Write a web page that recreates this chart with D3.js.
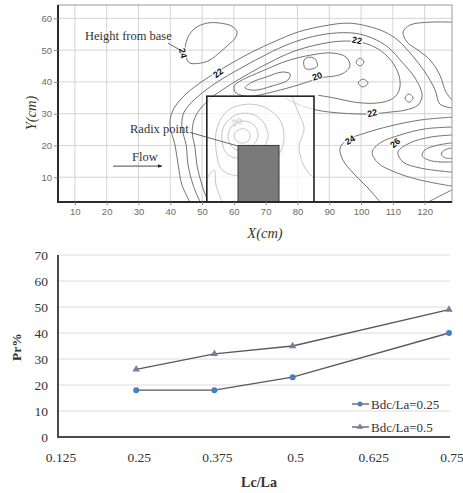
<!DOCTYPE html>
<html>
<head>
<meta charset="utf-8">
<script src="https://cdn.jsdelivr.net/npm/d3@7"></script>
<style>
  body { margin: 0; background: #fff; }
  svg { display: block; }
</style>
</head>
<body>
<svg id="chart" width="463" height="493"></svg>
<script>
// ---------- top panel: contour map (X, Y in cm) ----------
var xTicksTop = [10, 20, 30, 40, 50, 60, 70, 80, 90, 100, 110, 120];
var yTicksTop = [10, 20, 30, 40, 50, 60];

// contour lines, [x cm, y cm]
var bandA = [[46.2,2.2],[43.7,7.5],[42.5,13.8],[41.5,20.1],[39.9,26.4],[40.6,30.5],[43.1,34.3],[47.2,38.1],[52.5,41.8],[58.8,45.6],[65.7,49.4],[73.0,52.8],[80.2,55.7],[87.7,57.5],[95.9,58.5],[102.2,57.5],[107.5,55.7],[111.6,53.1],[116.0,48.4],[120.1,43.1],[123.3,37.4],[124.8,33.0],[128.6,31.8]];
var bandB = [[49.4,2.2],[47.2,7.5],[45.6,13.8],[45.0,20.1],[43.7,25.5],[44.0,29.6],[45.9,32.7],[50.0,36.5],[55.3,40.3],[61.6,44.0],[68.6,47.8],[75.8,51.3],[83.0,53.8],[90.9,55.3],[98.1,55.3],[103.5,53.8],[108.5,50.9],[112.9,46.2],[117.0,41.2],[119.2,35.8],[117.9,32.7],[113.8,31.1],[109.1,30.5],[102.8,29.9],[93.4,30.2],[86.2,31.1],[80.8,32.7],[76.1,34.9]];
var bandC = [[51.9,2.2],[50.0,7.5],[48.4,13.8],[47.8,19.2],[46.9,24.2],[47.5,28.0],[49.1,31.1],[52.8,34.9],[58.2,38.7],[64.5,42.5],[71.4,46.2],[78.3,49.4],[85.8,51.6],[93.4,52.8],[99.7,52.5],[104.4,50.9],[108.2,48.1],[111.0,44.3],[112.3,39.9],[111.6,36.5],[109.1,34.3],[104.4,33.3],[98.1,33.6],[91.8,34.9],[86.5,35.8]];
var line24 = [[106.0,2.2],[102.2,6.6],[97.8,11.0],[94.3,15.4],[93.4,19.2],[95.6,21.7],[101.3,23.9],[109.1,26.1],[118.6,28.0],[128.6,28.9]];
var topRight = [[128.6,58.8],[121.7,58.8],[115.4,57.9],[113.2,55.7],[114.5,52.5],[117.9,50.0],[121.7,46.9],[124.8,42.1],[126.7,36.8],[128.6,34.3]];
var u1 = [[128.6,25.8],[120.1,25.2],[112.3,23.3],[106.0,20.8],[103.5,17.9],[105.3,14.5],[110.7,11.6],[118.6,9.1],[128.6,7.2]];
var u2 = [[128.6,23.3],[121.7,22.6],[115.4,20.8],[111.6,17.9],[113.2,14.8],[118.6,12.9],[128.6,11.6]];
var u3 = [[128.6,20.8],[124.2,20.1],[120.1,18.6],[119.2,16.7],[122.3,15.1],[128.6,14.8]];
var u4 = [[128.6,19.2],[126.4,18.6],[125.2,17.3],[126.7,16.0],[128.6,16.0]];
var cornerLine = [[121.1,2.2],[124.8,4.1],[128.6,6.0]];

var loop24 = [[44.7,50.6],[45.6,54.1],[47.8,56.9],[51.6,58.5],[55.7,58.5],[59.4,57.5],[61.0,55.7],[60.4,53.8],[58.2,51.6],[55.7,49.4],[52.5,46.9],[49.4,45.9],[46.2,45.9],[45.3,46.9]];
var loop20 = [[60.7,36.5],[60.1,38.7],[62.6,40.6],[68.9,43.4],[76.4,46.5],[84.0,48.4],[90.9,49.1],[95.3,47.8],[96.5,45.0],[94.0,42.5],[87.1,41.2],[80.2,39.0],[72.0,36.8],[65.1,35.5]];
var loopInner = [[63.5,38.1],[65.7,39.9],[70.1,41.5],[75.2,43.1],[77.7,42.5],[77.0,40.6],[72.0,38.7],[66.7,37.4]];
var loopSmall = [[82.1,46.9],[84.0,47.8],[85.8,46.9],[86.2,44.9],[84.3,44.0],[82.4,44.3]];
var dot1 = [[98.4,46.2],[99.7,47.5],[100.9,46.2],[99.7,45.0]];
var dot2 = [[99.1,39.6],[100.6,40.9],[102.2,39.6],[100.6,38.4]];
var dot3 = [[113.8,34.9],[115.1,36.2],[116.4,34.9],[115.1,33.6]];

// faint contours inside the test box
var pale1 = [[60.1,23.0],[61.3,24.8],[63.5,25.2],[65.1,23.6],[64.5,21.4],[61.9,20.8]];
var pale2 = [[58.2,22.3],[59.4,26.1],[62.9,27.7],[66.4,26.4],[67.6,23.0],[65.7,19.8],[60.7,18.6]];
var pale3 = [[56.3,21.1],[56.9,26.1],[60.7,29.6],[65.7,29.9],[69.2,27.4],[70.8,23.0],[68.9,18.6],[63.5,16.0],[58.2,17.0]];
var pale4 = [[54.4,18.6],[54.7,25.5],[58.2,31.1],[64.5,33.0],[70.1,31.8],[74.5,28.0],[75.8,22.3],[73.9,16.7],[68.9,12.3],[61.9,10.4],[56.3,12.3]];
var paleOpen1 = [[51.6,9.7],[53.8,12.3],[54.4,7.5],[56.3,2.2]];
var paleOpen2 = [[78.3,35.5],[80.2,30.5],[82.1,25.5],[80.5,19.2],[82.4,12.9],[85.2,9.7]];

var openLines = [bandA, bandB, bandC, line24, topRight, u1, u2, u3, u4, cornerLine];
var closedLoops = [loop24, loop20, loopInner, loopSmall, dot1, dot2, dot3];
var paleLoops = [pale1, pale2, pale3, pale4];
var paleLines = [paleOpen1, paleOpen2];

// contour labels: value, x, y, angle
var contourLabels = [["24",44.0,49.1,78],["22",55.0,42.8,-38],["22",98.7,53.1,10],["20",86.2,41.8,-20],["22",103.5,30.2,-12],["24",96.5,21.7,-30],["26",110.7,20.8,-42]];

var boxX = [51.5, 85.2], boxY = [2.2, 35.5];
var blockX = [61.3, 74.2], blockY = [2.2, 20];

// ---------- bottom panel: Pr% vs Lc/La ----------
var lcLa = [0.25, 0.375, 0.5, 0.75];
var xTicksBot = [0.125, 0.25, 0.375, 0.5, 0.625, 0.75];
var yTicksBot = [0, 10, 20, 30, 40, 50, 60, 70];
var bdc025 = [18, 18, 23, 40];
var bdc05 = [26, 32, 35, 49];
var seriesNames = ["Bdc/La=0.25", "Bdc/La=0.5"];

var svg = d3.select("#chart");
var sans = "'Liberation Sans', Arial, sans-serif";
var serif = "'Liberation Serif', 'Times New Roman', serif";

// ===== top panel =====
var x1 = d3.scaleLinear().domain([4.7, 128.6]).range([58, 452]);
var y1 = d3.scaleLinear().domain([2.2, 64.2]).range([202, 5]);

svg.append("clipPath").attr("id", "plotclip")
  .append("rect").attr("x", 58).attr("y", 5).attr("width", 394).attr("height", 197);

var gTop = svg.append("g");

gTop.append("g").selectAll("line.gx").data(xTicksTop).enter().append("line")
  .attr("x1", function(d) { return x1(d); }).attr("x2", function(d) { return x1(d); })
  .attr("y1", 5).attr("y2", 202)
  .attr("stroke", "#d4d4d4").attr("stroke-width", 1);
gTop.append("g").selectAll("line.gy").data(yTicksTop).enter().append("line")
  .attr("y1", function(d) { return y1(d); }).attr("y2", function(d) { return y1(d); })
  .attr("x1", 58).attr("x2", 452)
  .attr("stroke", "#d4d4d4").attr("stroke-width", 1);

var line1 = d3.line()
  .x(function(d) { return x1(d[0]); })
  .y(function(d) { return y1(d[1]); })
  .curve(d3.curveCatmullRom);
var loop1 = d3.line()
  .x(function(d) { return x1(d[0]); })
  .y(function(d) { return y1(d[1]); })
  .curve(d3.curveCatmullRomClosed);

var cont = gTop.append("g").attr("clip-path", "url(#plotclip)")
  .attr("fill", "none").attr("stroke", "#737373").attr("stroke-width", 1);
cont.selectAll("path.open").data(openLines).enter().append("path").attr("d", line1);
cont.selectAll("path.loop").data(closedLoops).enter().append("path").attr("d", loop1);

// box washes out what lies inside it
gTop.append("rect")
  .attr("x", x1(boxX[0])).attr("y", y1(boxY[1]))
  .attr("width", x1(boxX[1]) - x1(boxX[0])).attr("height", y1(boxY[0]) - y1(boxY[1]))
  .attr("fill", "#fff").attr("fill-opacity", 0.72);

var pale = gTop.append("g").attr("fill", "none").attr("stroke", "#c6c6c6").attr("stroke-width", 1);
pale.selectAll("path.pl").data(paleLoops).enter().append("path").attr("d", loop1);
pale.selectAll("path.po").data(paleLines).enter().append("path").attr("d", line1);
gTop.append("text").attr("transform", "translate(" + x1(61.0) + "," + y1(27.4) + ") rotate(-18)")
  .attr("text-anchor", "middle").attr("dy", "0.35em")
  .style("font-family", sans).style("font-size", "9px").attr("fill", "#c4c4c4").text("20");

gTop.append("rect")
  .attr("x", x1(boxX[0])).attr("y", y1(boxY[1]))
  .attr("width", x1(boxX[1]) - x1(boxX[0])).attr("height", y1(boxY[0]) - y1(boxY[1]))
  .attr("fill", "none").attr("stroke", "#222").attr("stroke-width", 1.6);
gTop.append("rect")
  .attr("x", x1(blockX[0])).attr("y", y1(blockY[1]))
  .attr("width", x1(blockX[1]) - x1(blockX[0])).attr("height", y1(blockY[0]) - y1(blockY[1]))
  .attr("fill", "#7a7a7a").attr("stroke", "#3a3a3a").attr("stroke-width", 1);

gTop.selectAll("text.cl").data(contourLabels).enter().append("text")
  .attr("transform", function(d) { return "translate(" + x1(d[1]) + "," + y1(d[2]) + ") rotate(" + d[3] + ")"; })
  .attr("text-anchor", "middle").attr("dy", "0.35em")
  .style("font-family", sans).style("font-size", "9px").style("font-weight", "bold")
  .attr("fill", "#111").attr("stroke", "#fff").attr("stroke-width", 2.5)
  .attr("paint-order", "stroke").text(function(d) { return d[0]; });

// frame
gTop.append("rect").attr("x", 58).attr("y", 5).attr("width", 394).attr("height", 197)
  .attr("fill", "none").attr("stroke", "#9a9a9a").attr("stroke-width", 1);
gTop.append("path").attr("d", "M58,5V202H452")
  .attr("fill", "none").attr("stroke", "#2b2b2b").attr("stroke-width", 2);

var axL = gTop.append("g").attr("transform", "translate(58,0)")
  .call(d3.axisLeft(y1).tickValues(yTicksTop).tickSize(4).tickPadding(2));
var axB = gTop.append("g").attr("transform", "translate(0,202)")
  .call(d3.axisBottom(x1).tickValues(xTicksTop).tickSize(3).tickPadding(3));
[axL, axB].forEach(function(a) {
  a.select(".domain").remove();
  a.selectAll("line").attr("stroke", "#888");
  a.selectAll("text").style("font-family", sans).style("font-size", "9.5px").attr("fill", "#6b6b6b");
});

// annotations
gTop.append("text").attr("x", 85).attr("y", 40)
  .style("font-family", serif).style("font-size", "12.5px").attr("fill", "#333").text("Height from base");
gTop.append("line").attr("x1", x1(39.3)).attr("y1", y1(52.2)).attr("x2", x1(44.2)).attr("y2", y1(49.4))
  .attr("stroke", "#444").attr("stroke-width", 0.8);
gTop.append("text").attr("x", 130).attr("y", 133)
  .style("font-family", serif).style("font-size", "12.5px").attr("fill", "#333").text("Radix point");
gTop.append("line").attr("x1", x1(46.2)).attr("y1", y1(24.1)).attr("x2", x1(61.3)).attr("y2", y1(19.8))
  .attr("stroke", "#444").attr("stroke-width", 0.8);
gTop.append("text").attr("x", 132).attr("y", 161)
  .style("font-family", serif).style("font-size", "12.5px").attr("fill", "#333").text("Flow");
svg.append("defs").append("marker").attr("id", "arr")
  .attr("viewBox", "0 0 10 10").attr("refX", 9).attr("refY", 5)
  .attr("markerWidth", 5).attr("markerHeight", 5).attr("orient", "auto")
  .append("path").attr("d", "M0,1L10,5L0,9z").attr("fill", "#222");
gTop.append("line").attr("x1", x1(22)).attr("y1", y1(13.5)).attr("x2", x1(37.4)).attr("y2", y1(13.5))
  .attr("stroke", "#333").attr("stroke-width", 0.9).attr("marker-end", "url(#arr)");

gTop.append("text").attr("transform", "translate(36,113) rotate(-90)")
  .attr("text-anchor", "middle")
  .style("font-family", serif).style("font-size", "14.5px").style("font-style", "italic")
  .attr("fill", "#3a3a2a").text("Y(cm)");
gTop.append("text").attr("x", 265).attr("y", 238).attr("text-anchor", "middle")
  .style("font-family", serif).style("font-size", "14.5px").style("font-style", "italic")
  .attr("fill", "#3a3a2a").text("X(cm)");

// ===== bottom panel =====
var x2 = d3.scaleLinear().domain([0.125, 0.75]).range([58, 449]);
var y2 = d3.scaleLinear().domain([0, 70]).range([437, 255]);

var bot = svg.append("g");
bot.selectAll("line.grid").data(yTicksBot.slice(1)).enter().append("line")
  .attr("x1", 58).attr("x2", 450)
  .attr("y1", function(d) { return y2(d); }).attr("y2", function(d) { return y2(d); })
  .attr("stroke", "#dcdcdc").attr("stroke-width", 1);

bot.append("path").attr("d", "M58,255V437H450")
  .attr("fill", "none").attr("stroke", "#4a4a4a").attr("stroke-width", 2);

bot.selectAll("text.yt").data(yTicksBot).enter().append("text")
  .attr("x", 48).attr("y", function(d) { return y2(d); }).attr("dy", "0.35em")
  .attr("text-anchor", "end")
  .style("font-family", serif).style("font-size", "13.5px").attr("fill", "#333")
  .text(function(d) { return d; });
bot.selectAll("text.xt").data(xTicksBot).enter().append("text")
  .attr("x", function(d) { return x2(d) + 3; }).attr("y", 462)
  .attr("text-anchor", "middle")
  .style("font-family", serif).style("font-size", "13.5px").attr("fill", "#333")
  .text(function(d) { return d; });

var line2 = d3.line()
  .x(function(d, i) { return x2(lcLa[i]); })
  .y(function(d) { return y2(d); });

bot.append("path").datum(bdc025).attr("d", line2)
  .attr("fill", "none").attr("stroke", "#595959").attr("stroke-width", 1.3);
bot.append("path").datum(bdc05).attr("d", line2)
  .attr("fill", "none").attr("stroke", "#595959").attr("stroke-width", 1.3);

var tri = d3.symbol().type(d3.symbolTriangle).size(24);
bot.selectAll("circle.s1").data(bdc025).enter().append("circle")
  .attr("cx", function(d, i) { return x2(lcLa[i]); }).attr("cy", function(d) { return y2(d); })
  .attr("r", 3).attr("fill", "#4a7ebb");
bot.selectAll("path.s2").data(bdc05).enter().append("path")
  .attr("transform", function(d, i) { return "translate(" + x2(lcLa[i]) + "," + y2(d) + ")"; })
  .attr("d", tri).attr("fill", "#7d7a9e");

// legend
var leg = bot.append("g");
[404, 427].forEach(function(yy, i) {
  leg.append("line").attr("x1", 352).attr("x2", 369).attr("y1", yy).attr("y2", yy)
    .attr("stroke", "#595959").attr("stroke-width", 1.3);
  if (i === 0) {
    leg.append("circle").attr("cx", 360).attr("cy", yy).attr("r", 2.5).attr("fill", "#4a7ebb");
  } else {
    leg.append("path").attr("transform", "translate(360," + yy + ")")
      .attr("d", d3.symbol().type(d3.symbolTriangle).size(18)).attr("fill", "#7d7a9e");
  }
  leg.append("text").attr("x", 371).attr("y", yy).attr("dy", "0.35em")
    .style("font-family", serif).style("font-size", "13px").attr("fill", "#333")
    .text(seriesNames[i]);
});

bot.append("text").attr("transform", "translate(21,347) rotate(-90)")
  .attr("text-anchor", "middle")
  .style("font-family", serif).style("font-size", "13.5px").style("font-weight", "bold")
  .attr("fill", "#333").text("Pr%");
bot.append("text").attr("x", 259).attr("y", 487).attr("text-anchor", "middle")
  .style("font-family", serif).style("font-size", "14px").style("font-weight", "bold")
  .attr("fill", "#333").text("Lc/La");
</script>
</body>
</html>
